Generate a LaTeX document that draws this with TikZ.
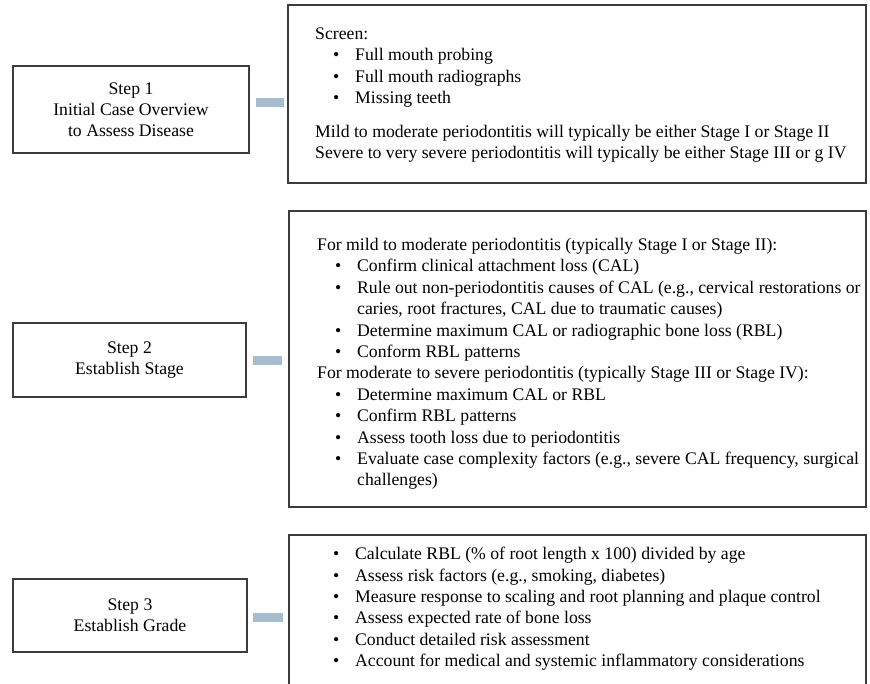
\documentclass[tikz,border=0pt]{standalone}
\usepackage{fontspec}
\setmainfont{Liberation Serif}
\definecolor{connblue}{RGB}{168,188,208}
\definecolor{boxgray}{RGB}{60,60,60}
\tikzset{
  x=1pt,y=-1pt,
  boxline/.style={draw=boxgray, line width=1.7pt},
  stepbox/.style={boxline, fill=white, align=center, font=\fontsize{17.7}{21}\selectfont, inner sep=0pt},
  listtext/.style={anchor=north west, align=left, inner sep=0pt, font=\fontsize{17.7}{21.4}\selectfont},
  conn/.style={draw=connblue, line width=9pt},
}
\newcommand{\bl}{\hspace*{18pt}\makebox[22pt][l]{\textbullet}}
\newcommand{\cl}{\hspace*{40pt}}
\begin{document}
\begin{tikzpicture}
\useasboundingbox (0,0) rectangle (870,683);
% Step 1
\node[stepbox, minimum width=236pt, minimum height=87pt] (s1) at (131,109.5) {Step 1\\Initial Case Overview\\to Assess Disease};
\node[boxline, minimum width=578pt, minimum height=178pt, inner sep=0pt] (d1) at (577,94) {};
\node[listtext] (t1) at (315,27) {\vphantom{(}Screen:\\
\bl Full mouth probing\\
\bl Full mouth radiographs\\
\bl Missing teeth\\[12.5pt]
Mild to moderate periodontitis will typically be either Stage I or Stage II\\
Severe to very severe periodontitis will typically be either Stage III or g IV};
\draw[conn] ([xshift=6pt]s1.east |- 0,102) -- ([xshift=-3pt]d1.west |- 0,102);
% Step 2
\node[stepbox, minimum width=233pt, minimum height=74pt] (s2) at (129.5,360) {Step 2\\Establish Stage};
\node[boxline, minimum width=577pt, minimum height=296pt, inner sep=0pt] (d2) at (577.5,359) {};
\node[listtext] (t2) at (317,238) {\vphantom{(}For mild to moderate periodontitis (typically Stage I or Stage II):\\
\bl Confirm clinical attachment loss (CAL)\\
\bl Rule out non-periodontitis causes of CAL (e.g., cervical restorations or\\
\cl caries, root fractures, CAL due to traumatic causes)\\
\bl Determine maximum CAL or radiographic bone loss (RBL)\\
\bl Conform RBL patterns\\
For moderate to severe periodontitis (typically Stage III or Stage IV):\\
\bl Determine maximum CAL or RBL\\
\bl Confirm RBL patterns\\
\bl Assess tooth loss due to periodontitis\\
\bl Evaluate case complexity factors (e.g., severe CAL frequency, surgical\\
\cl challenges)};
\draw[conn] ([xshift=6pt]s2.east |- 0,360) -- ([xshift=-6pt]d2.west |- 0,360);
% Step 3
\node[stepbox, minimum width=234pt, minimum height=73pt] (s3) at (130,615.5) {Step 3\\Establish Grade};
\coordinate (d3sw) at (289,695);
\coordinate (d3nw) at (289,535);
\coordinate (d3ne) at (866,535);
\coordinate (d3se) at (866,695);
\draw[boxline] (d3sw) -- (d3nw) -- (d3ne) -- (d3se);
\node[listtext] (t3) at (315,547) {\vphantom{(}%
\bl Calculate RBL (\% of root length x 100) divided by age\\
\bl Assess risk factors (e.g., smoking, diabetes)\\
\bl Measure response to scaling and root planning and plaque control\\
\bl Assess expected rate of bone loss\\
\bl Conduct detailed risk assessment\\
\bl Account for medical and systemic inflammatory considerations};
\draw[conn] ([xshift=5pt]s3.east |- 0,617) -- ([xshift=-6pt]d3nw |- 0,617);
\end{tikzpicture}
\end{document}
